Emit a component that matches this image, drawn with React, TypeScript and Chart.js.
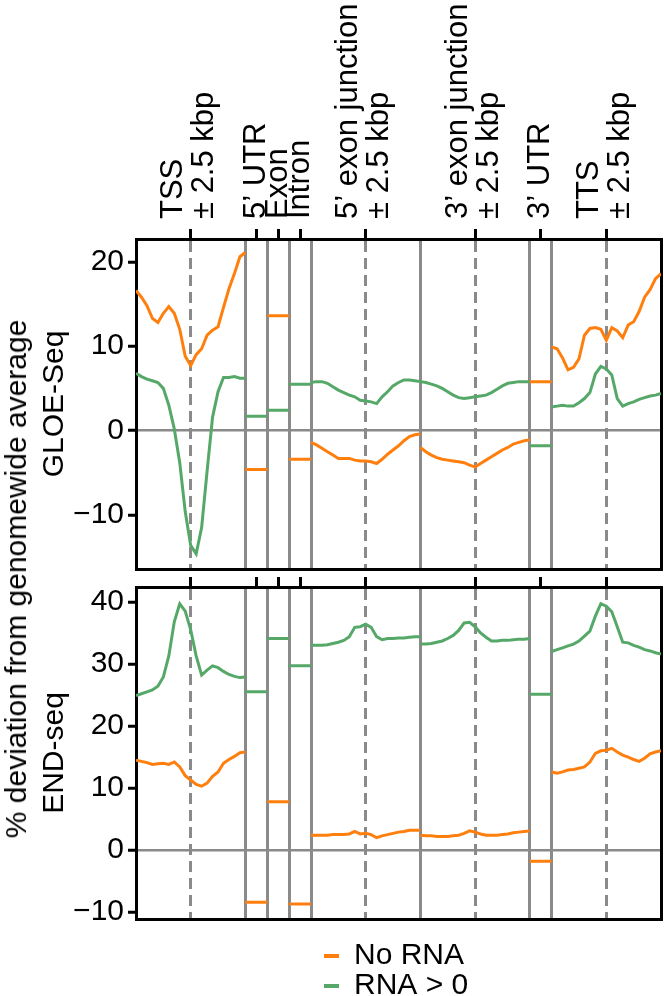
import { useEffect, useRef } from 'react';
import { Chart, registerables } from 'chart.js';

Chart.register(...registerables);

const FONT = "'Liberation Sans', Arial, Helvetica, sans-serif";
const ORANGE = '#ff7f0e';
const GREEN = '#55a868';
const GRAY = '#8a8a8a';

// positions (kbp) inside each ±2.5 kbp window
const windowKbp = [-2.5, -2.25, -2, -1.75, -1.5, -1.25, -1, -0.75, -0.5, -0.25, 0, 0.25, 0.5, 0.75, 1, 1.25, 1.5, 1.75, 2, 2.25, 2.5];

// region tick labels (top axis)
const windowCenters = [2.5, 10.5, 15.5, 21.5];
const windowLabels = [['TSS', '± 2.5 kbp'], ['5’ exon junction', '± 2.5 kbp'], ['3’ exon junction', '± 2.5 kbp'], ['TTS', '± 2.5 kbp']];
const bodyCenters = [5.5, 6.5, 7.5, 18.5];
const bodyLabels = ['5’ UTR', 'Exon', 'Intron', '3’ UTR'];
const regionBoundaries = [5, 6, 7, 8, 13, 18, 19];
const windowStarts = [0, 8, 13, 19]; // TSS, 5' EJ, 3' EJ, TTS
const bodyStarts = [5, 6, 7, 18]; // 5' UTR, Exon, Intron, 3' UTR

// GLOE-Seq
const gloeNoRnaTss = [16.6, 15.8, 14.8, 13.3, 12.8, 13.9, 14.7, 13.9, 12.0, 8.8, 7.7, 9.0, 9.7, 11.3, 11.9, 12.3, 14.6, 16.8, 18.6, 20.6, 21.1];
const gloeRnaTss = [6.8, 6.4, 6.1, 5.9, 5.7, 5.0, 3.0, 0.2, -3.8, -9.6, -13.6, -14.6, -11.5, -4.8, 1.6, 4.6, 6.3, 6.3, 6.4, 6.2, 6.2];
const gloeNoRnaEj5 = [-1.4, -1.7, -2.1, -2.5, -2.9, -3.3, -3.3, -3.3, -3.5, -3.6, -3.6, -3.7, -3.9, -3.4, -2.8, -2.3, -1.8, -1.2, -0.7, -0.5, -0.4];
const gloeRnaEj5 = [5.7, 5.8, 5.8, 5.6, 5.2, 4.8, 4.5, 4.2, 4.0, 3.6, 3.5, 3.4, 3.2, 4.0, 4.6, 5.3, 5.7, 6.0, 6.0, 5.9, 5.8];
const gloeNoRnaEj3 = [-2.0, -2.5, -2.9, -3.2, -3.4, -3.5, -3.6, -3.7, -3.8, -4.1, -4.3, -3.9, -3.5, -3.1, -2.7, -2.3, -2.0, -1.6, -1.4, -1.2, -1.1];
const gloeRnaEj3 = [5.8, 5.7, 5.5, 5.3, 5.0, 4.6, 4.2, 3.9, 3.8, 3.9, 4.0, 4.1, 4.2, 4.5, 4.9, 5.3, 5.6, 5.7, 5.8, 5.8, 5.8];
const gloeNoRnaTts = [9.9, 9.7, 8.6, 7.2, 7.5, 8.5, 11.3, 12.1, 12.2, 12.0, 10.7, 12.2, 11.8, 11.0, 12.5, 12.9, 14.1, 15.8, 16.7, 18.0, 18.6];
const gloeRnaTts = [2.8, 2.9, 3.0, 2.9, 2.9, 3.3, 3.8, 4.5, 6.7, 7.6, 7.3, 6.6, 3.8, 2.9, 3.2, 3.4, 3.7, 3.9, 4.1, 4.2, 4.4];
const gloeNoRnaBody = [-4.6, 13.6, -3.4, 5.8];
const gloeRnaBody = [1.7, 2.4, 5.5, -1.8];

// END-seq
const endNoRnaTss = [14.5, 14.3, 14.1, 13.8, 13.9, 14.0, 13.8, 14.2, 13.4, 12.0, 11.3, 10.6, 10.3, 10.8, 11.9, 12.6, 14.0, 14.6, 15.1, 15.7, 15.8];
const endRnaTss = [24.9, 25.2, 25.5, 25.8, 26.4, 27.9, 31.3, 36.8, 39.7, 38.5, 35.5, 31.3, 28.2, 29.0, 29.7, 29.4, 28.8, 28.3, 28.0, 27.8, 27.9];
const endNoRnaEj5 = [2.4, 2.4, 2.4, 2.4, 2.5, 2.5, 2.5, 2.6, 3.0, 2.6, 2.7, 2.5, 2.0, 2.3, 2.5, 2.7, 2.9, 3.0, 3.2, 3.2, 3.2];
const endRnaEj5 = [33.0, 33.0, 33.0, 33.1, 33.3, 33.5, 33.8, 34.4, 35.9, 36.0, 36.4, 35.9, 34.4, 33.9, 34.1, 34.1, 34.2, 34.2, 34.3, 34.4, 34.4];
const endNoRnaEj3 = [2.4, 2.3, 2.3, 2.2, 2.2, 2.2, 2.3, 2.4, 2.7, 3.1, 2.9, 2.6, 2.4, 2.4, 2.4, 2.5, 2.6, 2.8, 2.9, 3.0, 3.1];
const endRnaEj3 = [33.2, 33.2, 33.3, 33.5, 33.7, 34.1, 34.6, 35.4, 36.6, 36.7, 36.0, 35.0, 34.3, 33.7, 33.7, 33.8, 33.8, 33.9, 34.0, 34.0, 34.1];
const endNoRnaTts = [12.6, 12.4, 12.6, 12.9, 13.0, 13.2, 13.4, 14.2, 15.6, 16.0, 16.1, 16.4, 15.8, 15.3, 15.0, 14.6, 14.3, 14.8, 15.5, 15.8, 16.0];
const endRnaTts = [32.0, 32.3, 32.6, 32.9, 33.2, 33.7, 34.5, 35.3, 37.7, 39.7, 39.3, 38.4, 36.0, 33.5, 33.4, 33.0, 32.7, 32.3, 32.1, 31.8, 31.6];
const endNoRnaBody = [-8.4, 7.8, -8.7, -1.8];
const endRnaBody = [25.5, 34.1, 29.7, 25.1];

const gloeTicks = [-10, 0, 10, 20];
const endTicks = [-10, 0, 10, 20, 30, 40];

type Pt = { x: number; y: number | null };

function buildSeries(windows: number[][], body: number[]): Pt[] {
  const pts: Pt[] = [];
  const addWindow = (w: number) => {
    windowKbp.forEach((k, i) => pts.push({ x: windowStarts[w] + k + 2.5, y: windows[w][i] }));
    pts.push({ x: windowStarts[w] + 5, y: null });
  };
  const addBody = (b: number) => {
    pts.push({ x: bodyStarts[b], y: body[b] });
    pts.push({ x: bodyStarts[b] + 1, y: body[b] });
    pts.push({ x: bodyStarts[b] + 1, y: null });
  };
  addWindow(0);
  addBody(0);
  addBody(1);
  addBody(2);
  addWindow(1);
  addWindow(2);
  addBody(3);
  addWindow(3);
  return pts;
}

const noPad = (s: any) => {
  s.paddingLeft = 0;
  s.paddingRight = 0;
  s.paddingTop = 0;
  s.paddingBottom = 0;
};

function panelConfig(opts: {
  noRna: Pt[];
  rna: Pt[];
  yMin: number;
  yMax: number;
  yTicks: number[];
  yTitle: string;
  labelled: boolean;
  topHeight: number;
}): any {
  const { noRna, rna, yMin, yMax, yTicks, yTitle, labelled, topHeight } = opts;
  const isWindow = (v: number) => windowCenters.includes(v);
  const scales: any = {
    x: {
      type: 'linear',
      position: 'bottom',
      min: 0,
      max: 24,
      afterBuildTicks: (s: any) => {
        s.ticks = regionBoundaries.map((v) => ({ value: v }));
      },
      ticks: { display: false },
      grid: { color: GRAY, lineWidth: 3, drawTicks: false },
      border: { display: true, color: '#000', width: 3 },
      afterFit: (s: any) => {
        s.height = 0;
        noPad(s);
      },
    },
    y: {
      type: 'linear',
      position: 'left',
      min: yMin,
      max: yMax,
      afterBuildTicks: (s: any) => {
        s.ticks = yTicks.map((v) => ({ value: v }));
      },
      ticks: {
        font: { family: FONT, size: 30 },
        color: '#000',
        padding: 4,
        callback: (v: any) => (v < 0 ? '−' + Math.abs(v) : String(v)),
      },
      grid: {
        color: (ctx: any) => (ctx.tick && ctx.tick.value === 0 ? GRAY : 'rgba(0,0,0,0)'),
        lineWidth: 2.5,
        drawTicks: true,
        tickLength: 8,
        tickColor: '#000',
        tickWidth: 3,
      },
      border: { display: true, color: '#000', width: 3 },
      title: {
        display: true,
        text: yTitle,
        font: { family: FONT, size: 30, lineHeight: 1.2 },
        color: '#000',
        padding: { top: 37, bottom: 0 },
      },
      afterFit: (s: any) => {
        s.width = 136;
        noPad(s);
      },
    },
    yR: {
      type: 'linear',
      position: 'right',
      display: true,
      ticks: { display: false },
      grid: { drawOnChartArea: false, drawTicks: false },
      border: { display: true, color: '#000', width: 3 },
      afterFit: (s: any) => {
        s.width = 0;
        noPad(s);
      },
    },
  };

  if (labelled) {
    scales.xWin = {
      type: 'linear',
      position: 'top',
      weight: 1,
      min: 0,
      max: 24,
      afterBuildTicks: (s: any) => {
        s.ticks = windowCenters.map((v) => ({ value: v }));
      },
      ticks: {
        display: true,
        autoSkip: false,
        minRotation: 90,
        maxRotation: 90,
        padding: 10,
        labelOffset: 45,
        font: { family: FONT, size: 31, lineHeight: 1 },
        color: '#000',
        callback: (v: any) => windowLabels[windowCenters.indexOf(v)],
      },
      grid: { color: GRAY, lineWidth: 3, drawTicks: true, tickLength: 10, tickColor: '#000', tickWidth: 3 },
      border: { display: true, color: '#000', width: 3, dash: [11, 6] },
      afterFit: (s: any) => {
        s.height = topHeight;
        noPad(s);
      },
    };
    scales.xBody = {
      type: 'linear',
      position: 'top',
      weight: 0,
      min: 0,
      max: 24,
      afterBuildTicks: (s: any) => {
        s.ticks = bodyCenters.map((v) => ({ value: v }));
      },
      ticks: {
        display: true,
        autoSkip: false,
        mirror: true,
        minRotation: 90,
        maxRotation: 90,
        padding: -20,
        labelOffset: 0,
        font: { family: FONT, size: 31, lineHeight: 1 },
        color: '#000',
        callback: (v: any) => bodyLabels[bodyCenters.indexOf(v)],
      },
      grid: { drawOnChartArea: false, drawTicks: true, tickLength: 10, tickColor: '#000', tickWidth: 3 },
      border: { display: false },
      afterFit: (s: any) => {
        s.height = 0;
        noPad(s);
      },
    };
  } else {
    scales.xTop = {
      type: 'linear',
      position: 'top',
      min: 0,
      max: 24,
      afterBuildTicks: (s: any) => {
        s.ticks = [...windowCenters, ...bodyCenters].sort((a, b) => a - b).map((v) => ({ value: v }));
      },
      ticks: { display: false },
      grid: {
        color: (ctx: any) => (ctx.tick && isWindow(ctx.tick.value) ? GRAY : 'rgba(0,0,0,0)'),
        lineWidth: 3,
        drawTicks: true,
        tickLength: 10,
        tickColor: '#000',
        tickWidth: 3,
      },
      border: { display: true, color: '#000', width: 3, dash: [11, 6] },
      afterFit: (s: any) => {
        s.height = topHeight;
        noPad(s);
      },
    };
  }

  return {
    type: 'line',
    data: {
      datasets: [
        {
          label: 'No RNA',
          data: noRna,
          borderColor: ORANGE,
          backgroundColor: ORANGE,
          borderWidth: 3,
          pointRadius: 0,
          spanGaps: false,
          tension: 0,
          xAxisID: 'x',
          yAxisID: 'y',
        },
        {
          label: 'RNA > 0',
          data: rna,
          borderColor: GREEN,
          backgroundColor: GREEN,
          borderWidth: 3,
          pointRadius: 0,
          spanGaps: false,
          tension: 0,
          xAxisID: 'x',
          yAxisID: 'y',
        },
      ],
    },
    options: {
      responsive: false,
      animation: false,
      devicePixelRatio: 1,
      layout: { padding: { left: 0, right: 3, top: 0, bottom: 5 } },
      scales,
      plugins: { legend: { display: false }, tooltip: { enabled: false } },
    },
  };
}

export default function App() {
  const topRef = useRef<HTMLCanvasElement>(null);
  const botRef = useRef<HTMLCanvasElement>(null);
  const legRef = useRef<HTMLCanvasElement>(null);

  useEffect(() => {
    Chart.defaults.font.family = FONT;
    Chart.defaults.color = '#000';
    const gloeNo = buildSeries([gloeNoRnaTss, gloeNoRnaEj5, gloeNoRnaEj3, gloeNoRnaTts], gloeNoRnaBody);
    const gloeYes = buildSeries([gloeRnaTss, gloeRnaEj5, gloeRnaEj3, gloeRnaTts], gloeRnaBody);
    const endNo = buildSeries([endNoRnaTss, endNoRnaEj5, endNoRnaEj3, endNoRnaTts], endNoRnaBody);
    const endYes = buildSeries([endRnaTss, endRnaEj5, endRnaEj3, endRnaTts], endRnaBody);

    const top = new Chart(
      topRef.current as HTMLCanvasElement,
      panelConfig({
        noRna: gloeNo,
        rna: gloeYes,
        yMin: -16.4,
        yMax: 22.7,
        yTicks: gloeTicks,
        yTitle: 'GLOE-Seq',
        labelled: true,
        topHeight: 239,
      })
    );
    const bottom = new Chart(
      botRef.current as HTMLCanvasElement,
      panelConfig({
        noRna: endNo,
        rna: endYes,
        yMin: -11.1,
        yMax: 42.4,
        yTicks: endTicks,
        yTitle: 'END-seq',
        labelled: false,
        topHeight: 13,
      })
    );
    const legend = new Chart(legRef.current as HTMLCanvasElement, {
      type: 'line',
      data: {
        datasets: [
          { label: 'No RNA', data: [], borderColor: ORANGE, backgroundColor: ORANGE },
          { label: 'RNA > 0', data: [], borderColor: GREEN, backgroundColor: GREEN },
        ],
      },
      options: {
        responsive: false,
        animation: false,
        devicePixelRatio: 1,
        layout: { padding: 0 },
        scales: { x: { display: false }, y: { display: false } },
        plugins: {
          tooltip: { enabled: false },
          legend: {
            position: 'left',
            align: 'start',
            labels: {
              font: { family: FONT, size: 30, lineHeight: 1 },
              color: '#000',
              boxWidth: 15,
              boxHeight: 4,
              padding: 0,
              generateLabels: (chart: any) =>
                chart.data.datasets.map((d: any, i: number) => ({
                  text: d.label,
                  fillStyle: d.borderColor,
                  strokeStyle: d.borderColor,
                  lineWidth: 0,
                  hidden: false,
                  datasetIndex: i,
                })),
            },
          },
        },
      } as any,
    });
    return () => {
      top.destroy();
      bottom.destroy();
      legend.destroy();
    };
  }, []);

  return (
    <div
      style={{
        position: 'absolute',
        left: 0,
        top: 0,
        width: 664,
        height: 996,
        background: '#fff',
        overflow: 'hidden',
      }}
    >
      <canvas ref={topRef} width={664} height={574} style={{ position: 'absolute', left: 0, top: 0 }} />
      <canvas ref={botRef} width={664} height={350} style={{ position: 'absolute', left: 0, top: 574 }} />
      <canvas ref={legRef} width={340} height={70} style={{ position: 'absolute', left: 324, top: 941 }} />
      <div
        style={{
          position: 'absolute',
          left: 16,
          top: 579,
          transform: 'translate(-50%, -50%) rotate(-90deg)',
          whiteSpace: 'nowrap',
          fontFamily: FONT,
          fontSize: 30,
          lineHeight: 1,
          color: '#000',
        }}
      >
        % deviation from genomewide average
      </div>
    </div>
  );
}
